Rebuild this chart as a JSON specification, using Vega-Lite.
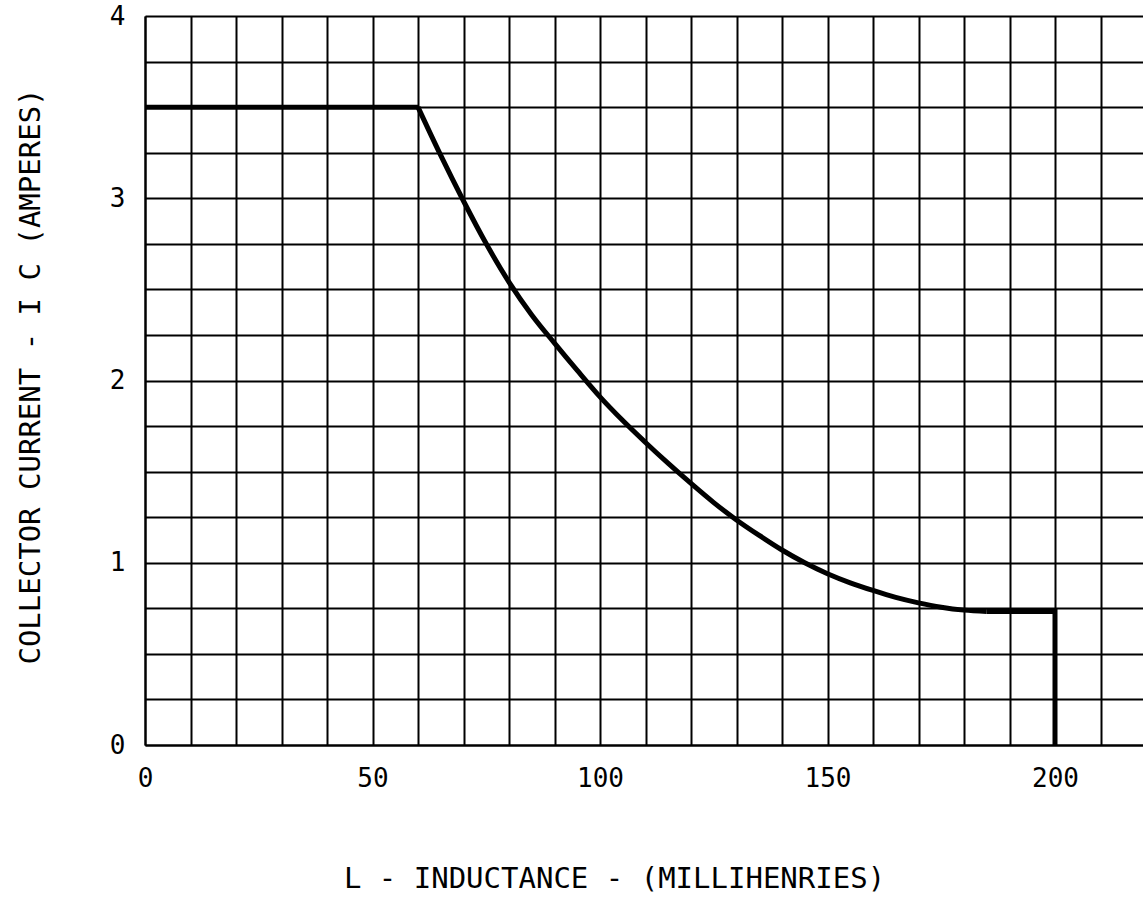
{
  "$schema": "https://vega.github.io/schema/vega-lite/v6.json",
  "width": 1001,
  "height": 729,
  "autosize": {"type": "none"},
  "padding": {"left": 145, "top": 16, "right": 0, "bottom": 152},
  "background": "white",
  "config": {
    "view": {"stroke": null},
    "font": "DejaVu Sans Mono",
    "axis": {
      "labelFont": "DejaVu Sans Mono",
      "titleFont": "DejaVu Sans Mono",
      "labelFontSize": 26,
      "titleFontSize": 29,
      "labelColor": "black",
      "titleColor": "black",
      "titleFontWeight": "normal",
      "ticks": false,
      "grid": true,
      "gridColor": "black",
      "gridOpacity": 1,
      "gridWidth": 2,
      "domainColor": "black",
      "domainWidth": 2
    }
  },
  "data": {
    "values": [
      {"seg": "a", "L": 0, "I": 3.5},
      {"seg": "a", "L": 60, "I": 3.5},
      {"seg": "b", "L": 60, "I": 3.5},
      {"seg": "b", "L": 65, "I": 3.235},
      {"seg": "b", "L": 70, "I": 2.985},
      {"seg": "b", "L": 75, "I": 2.75},
      {"seg": "b", "L": 80, "I": 2.54},
      {"seg": "b", "L": 85, "I": 2.36},
      {"seg": "b", "L": 90, "I": 2.205},
      {"seg": "b", "L": 95, "I": 2.055},
      {"seg": "b", "L": 100, "I": 1.91},
      {"seg": "b", "L": 105, "I": 1.78},
      {"seg": "b", "L": 110, "I": 1.66},
      {"seg": "b", "L": 115, "I": 1.545},
      {"seg": "b", "L": 120, "I": 1.435},
      {"seg": "b", "L": 125, "I": 1.33},
      {"seg": "b", "L": 130, "I": 1.235},
      {"seg": "b", "L": 135, "I": 1.15},
      {"seg": "b", "L": 140, "I": 1.07},
      {"seg": "b", "L": 145, "I": 1.0},
      {"seg": "b", "L": 150, "I": 0.94},
      {"seg": "b", "L": 155, "I": 0.89},
      {"seg": "b", "L": 160, "I": 0.848},
      {"seg": "b", "L": 165, "I": 0.81},
      {"seg": "b", "L": 170, "I": 0.78},
      {"seg": "b", "L": 175, "I": 0.756},
      {"seg": "b", "L": 180, "I": 0.74},
      {"seg": "b", "L": 185, "I": 0.732},
      {"seg": "c", "L": 185, "I": 0.732},
      {"seg": "c", "L": 200, "I": 0.732},
      {"seg": "c", "L": 200, "I": 0}
    ]
  },
  "encoding": {
    "x": {
      "field": "L",
      "type": "quantitative",
      "scale": {"domain": [0, 220], "nice": false},
      "axis": {
        "values": [0,10,20,30,40,50,60,70,80,90,100,110,120,130,140,150,160,170,180,190,200,210,220],
        "labelExpr": "datum.value % 50 === 0 ? format(datum.value, 'd') : ''",
        "labelPadding": 20,
        "labelFlush": false,
        "title": "L - INDUCTANCE - (MILLIHENRIES)",
        "titleX": 469,
        "titleY": 133,
        "titleBaseline": "middle",
        "titleAlign": "center"
      }
    },
    "y": {
      "field": "I",
      "type": "quantitative",
      "scale": {"domain": [0, 4], "nice": false},
      "axis": {
        "values": [0,0.25,0.5,0.75,1,1.25,1.5,1.75,2,2.25,2.5,2.75,3,3.25,3.5,3.75,4],
        "labelExpr": "datum.value % 1 === 0 ? format(datum.value, 'd') : ''",
        "labelPadding": 20,
        "labelFlush": false,
        "title": "COLLECTOR CURRENT - I C (AMPERES)",
        "titleX": -115,
        "titleY": 360,
        "titleAngle": 270,
        "titleBaseline": "middle",
        "titleAlign": "center"
      }
    }
  },
  "layer": [
    {
      "transform": [{"filter": "datum.seg !== 'b'"}],
      "mark": {"type": "line", "color": "black", "strokeWidth": 5, "interpolate": "linear", "strokeCap": "butt", "strokeJoin": "miter"},
      "encoding": {"detail": {"field": "seg"}}
    },
    {
      "transform": [{"filter": "datum.seg === 'b'"}],
      "mark": {"type": "line", "color": "black", "strokeWidth": 5, "interpolate": "monotone", "strokeCap": "butt"},
      "encoding": {}
    }
  ]
}
